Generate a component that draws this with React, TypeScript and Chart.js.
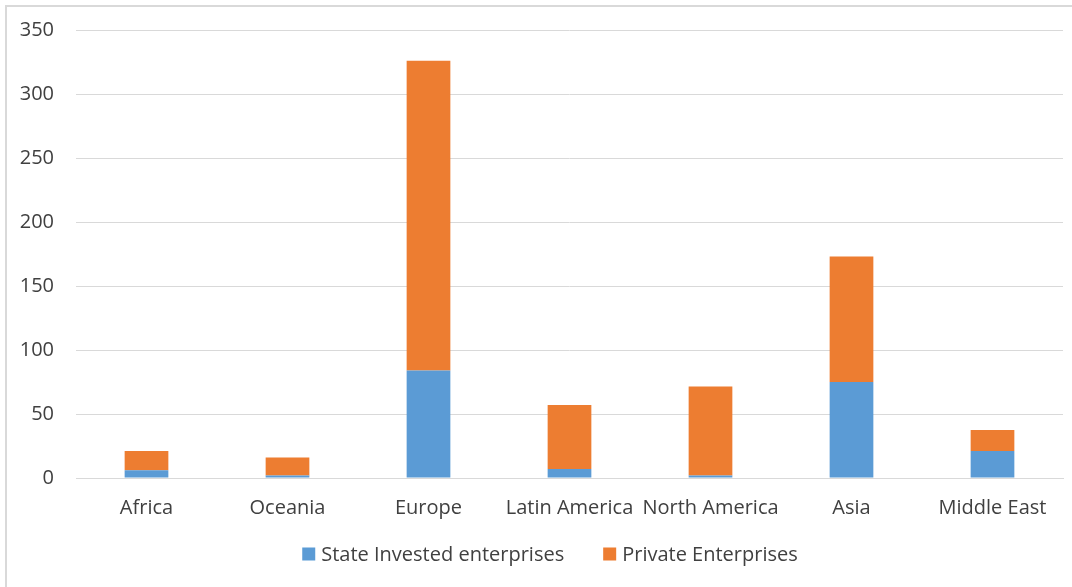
import React, { useEffect, useRef } from "react";
import { Chart, registerables } from "chart.js";

Chart.register(...registerables);

const categories = ["Africa", "Oceania", "Europe", "Latin America", "North America", "Asia", "Middle East"];
const stateInvested = [6, 2, 84, 7, 2, 75, 21];
const privateEnterprises = [15, 14, 242, 50, 69.5, 98, 16.5];
const seriesNames = ["State Invested enterprises", "Private Enterprises"];
const yMin = 0;
const yMax = 350;
const yStep = 50;

const FONT = '"Open Sans", "Noto Sans", sans-serif';
const TEXT = "#404040";
const GRID = "#d9d9d9";

const legendPlugin = {
  id: "customLegend",
  afterDraw(chart: any) {
    const ctx = chart.ctx;
    ctx.save();
    ctx.font = `20px ${FONT}`;
    ctx.textBaseline = "middle";
    ctx.textAlign = "left";
    const box = 13;
    const gap = 6;
    const spacing = 39;
    const items = chart.data.datasets.map((d: any) => ({ label: d.label, color: d.backgroundColor }));
    const widths = items.map((i: any) => box + gap + ctx.measureText(i.label).width);
    const total = widths.reduce((a: number, b: number) => a + b, 0) + spacing * (items.length - 1);
    let x = chart.width / 2 - total / 2 + 14;
    const y = chart.chartArea.bottom + 76;
    items.forEach((it: any, i: number) => {
      ctx.fillStyle = it.color;
      ctx.fillRect(x, y - box / 2, box, box);
      ctx.fillStyle = TEXT;
      ctx.fillText(it.label, x + box + gap, y + 1);
      x += widths[i] + spacing;
    });
    ctx.restore();
  },
};

export default function App() {
  const ref = useRef<HTMLCanvasElement | null>(null);
  useEffect(() => {
    if (!ref.current) return;
    const chart = new Chart(ref.current, {
      type: "bar",
      data: {
        labels: categories,
        datasets: [
          {
            label: seriesNames[0],
            data: stateInvested,
            backgroundColor: "#5b9bd5",
            categoryPercentage: 0.31,
            barPercentage: 1,
          },
          {
            label: seriesNames[1],
            data: privateEnterprises,
            backgroundColor: "#ed7d31",
            categoryPercentage: 0.31,
            barPercentage: 1,
          },
        ],
      },
      options: {
        animation: false,
        responsive: false,
        devicePixelRatio: 1,
        layout: { padding: { top: 30, right: 9, bottom: 0, left: 0 } },
        plugins: {
          legend: { display: false },
          tooltip: { enabled: false },
        },
        scales: {
          x: {
            stacked: true,
            grid: { display: false, drawTicks: false },
            border: { display: true, color: GRID, width: 1 },
            ticks: { color: TEXT, font: { family: FONT, size: 20 }, padding: 18, maxRotation: 0, autoSkip: false },
            afterFit: (s: any) => {
              s.height = 109;
            },
          },
          y: {
            stacked: true,
            min: yMin,
            max: yMax,
            ticks: { stepSize: yStep, color: TEXT, font: { family: FONT, size: 20 }, padding: 22 },
            grid: { color: GRID, lineWidth: 1, drawTicks: false },
            border: { display: false },
            afterFit: (s: any) => {
              s.width = 76;
              s.paddingTop = 0;
              s.paddingBottom = 0;
            },
          },
        },
      },
      plugins: [legendPlugin],
    });
    return () => chart.destroy();
  }, []);

  return (
    <div
      style={{
        position: "fixed",
        left: 0,
        top: 0,
        width: 1072,
        height: 587,
        overflow: "hidden",
        background: "#fff",
      }}
    >
      <div
        style={{
          position: "absolute",
          left: 5,
          top: 5,
          width: 1100,
          height: 620,
          border: `2px solid ${GRID}`,
          boxSizing: "border-box",
        }}
      />
      <canvas ref={ref} width={1072} height={587} style={{ position: "absolute", left: 0, top: 0, width: 1072, height: 587 }} />
    </div>
  );
}
